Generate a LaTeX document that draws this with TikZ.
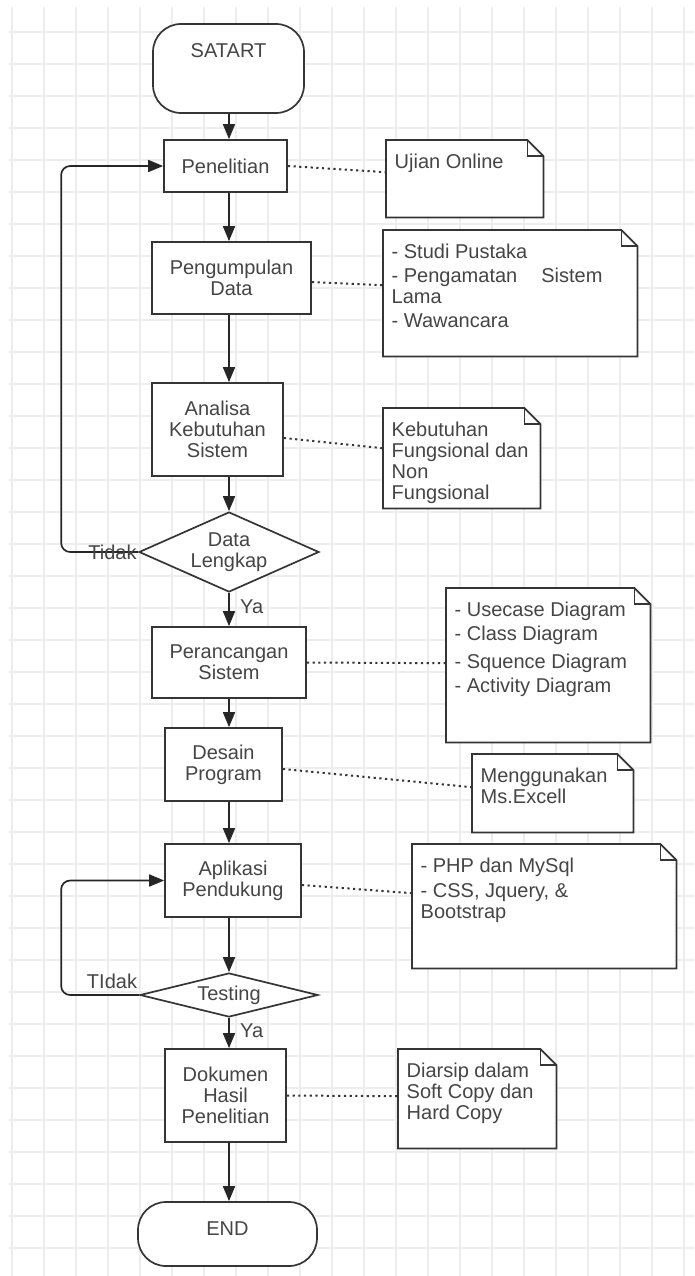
\documentclass[tikz,border=0pt]{standalone}
\usepackage{fontspec}
\setmainfont{Liberation Sans}
\usetikzlibrary{shapes.geometric,arrows.meta,calc}
\definecolor{bd}{HTML}{353535}
\definecolor{tx}{HTML}{454545}
\definecolor{gridc}{HTML}{EDEDED}
\newcommand\nfont{\fontsize{20}{21}\selectfont}
\tikzset{
  bdline/.style={draw=bd, line width=1.7pt},
  proc/.style={draw=bd, line width=1.7pt, fill=white, font=\nfont, text=tx, align=center, inner sep=0pt},
  term/.style={draw=bd, line width=1.7pt, fill=white, rounded corners=28pt, inner sep=0pt},
  decis/.style={diamond, draw=bd, line width=1.7pt, fill=white, font=\nfont, text=tx, align=center, inner sep=0pt},
  notetext/.style={font=\nfont, text=tx, align=left, inner sep=0pt},
  lbl/.style={font=\nfont, text=tx, inner sep=0pt},
  arr/.style={draw=black!85, line width=1.7pt, -{Triangle[length=15pt,width=12pt]}},
  dotline/.style={draw=bd, line width=2pt, dash pattern=on 2.2pt off 3.5pt},
}
\newcommand\notebox[6]{%
  \node[inner sep=0pt, minimum width=#4pt, minimum height=#5pt, anchor=north west] (#1) at (#2,#3) {};
  \draw[bdline, fill=white] (#1.north west) -- ([xshift=-16pt]#1.north east) -- ([yshift=-16pt]#1.north east) -- (#1.south east) -- (#1.south west) -- cycle;
  \draw[bdline] ([xshift=-16pt]#1.north east) |- ([yshift=-16pt]#1.north east);
  \node[notetext, anchor=north west] at ([shift={(8.5pt,-14pt)}]#1.north west) {#6};
}
\begin{document}
\begin{tikzpicture}[x=1pt, y=-1pt]
\useasboundingbox (0,0) rectangle (694,1276);
\fill[white] (0,0) rectangle (694,1276);
% grid
\foreach \i in {0,...,21} \draw[gridc, line width=1.8pt] ({12+32*\i},7) -- ({12+32*\i},1276);
\foreach \j in {1,...,39} \draw[gridc, line width=1.8pt] (9,{32*\j}) -- (694,{32*\j});
\coordinate (col) at (229,0);
% terminals
\node[term, minimum width=151pt, minimum height=89pt, label={[lbl, yshift=17.5pt]center:SATART}] (start) at (228.5,68.5) {};
\node[term, minimum width=179pt, minimum height=64pt, label={[lbl, yshift=5pt]center:END}] (end) at (227.5,1234) {};
% process boxes
\node[proc, minimum width=123pt, minimum height=52pt] (pen) at (225.5,166) {Penelitian};
\node[proc, minimum width=159pt, minimum height=72pt] (pg) at (231.5,278) {Pengumpulan\\Data};
\node[proc, minimum width=131pt, minimum height=93pt] (an) at (217.5,429.5) {Analisa\\Kebutuhan\\Sistem};
\node[proc, minimum width=154pt, minimum height=71pt] (pr) at (229,662.5) {Perancangan\\Sistem};
\node[proc, minimum width=117pt, minimum height=73pt] (ds) at (223.5,764.5) {Desain\\Program};
\node[proc, minimum width=136pt, minimum height=73pt] (ap) at (233,880.5) {Aplikasi\\Pendukung};
\node[proc, minimum width=121pt, minimum height=93pt] (dk) at (225.5,1095.5) {Dokumen\\Hasil\\Penelitian};
% decisions
\node[decis, minimum width=180pt, minimum height=80pt, shape aspect=2.25] (dl) at (229,552) {Data\\Lengkap};
\node[decis, minimum width=178pt, minimum height=44pt, shape aspect=4] (ts) at (229,995) {Testing};
% notes
\notebox{n1}{386}{140}{157}{77}{Ujian Online}
\notebox{n2}{383}{230}{254}{126}{- Studi Pustaka\\[3pt]- Pengamatan\hspace*{24pt}Sistem\\Lama\\[3pt]- Wawancara}
\notebox{n3}{383}{408}{157}{100}{Kebutuhan\\Fungsional dan\\Non\\Fungsional}
\notebox{n4}{446}{588}{204}{154}{- Usecase Diagram\\[3pt]- Class Diagram\\[7pt]- Squence Diagram\\[3pt]- Activity Diagram}
\notebox{n5}{472}{754}{161}{78}{Menggunakan\\Ms.Excell}
\notebox{n6}{412}{844}{264}{124}{- PHP dan MySql\\[4pt]- CSS, Jquery, \&\\Bootstrap}
\notebox{n7}{398}{1049}{158}{99}{Diarsip dalam\\Soft Copy dan\\Hard Copy}
% main flow
\draw[arr] (start.south -| col) -- (pen.north -| col);
\draw[arr] (pen.south -| col) -- (pg.north -| col);
\draw[arr] (pg.south -| col) -- (an.north -| col);
\draw[arr] (an.south -| col) -- (dl.north);
\draw[arr] (dl.south) -- (pr.north -| col);
\draw[arr] (pr.south -| col) -- (ds.north -| col);
\draw[arr] (ds.south -| col) -- (ap.north -| col);
\draw[arr] (ap.south -| col) -- (ts.north);
\draw[arr] (ts.south) -- (dk.north -| col);
\draw[arr] (dk.south -| col) -- (end.north -| col);
% loops
\draw[arr, rounded corners=9pt] (dl.west) -- ++(-77,0) |- (pen.west);
\draw[arr, rounded corners=9pt] (ts.west) -- ++(-78,0) |- (ap.west);
% labels
\node[lbl] (tidak1) at (112.5,552) {Tidak};
\node[lbl] (tidak2) at (112,981) {TIdak};
\node[lbl, anchor=west] (ya1) at (240,607) {Ya};
\node[lbl, anchor=west] (ya2) at (240,1031) {Ya};
% dotted associations
\draw[dotline] (pen.east) -- ([yshift=6.5pt]n1.west);
\draw[dotline] ([yshift=-4pt]pg.east) -- ([yshift=8pt]n2.west);
\draw[dotline] ([yshift=-8.5pt]an.east) -- ([yshift=10pt]n3.west);
\draw[dotline] (pr.east) -- ([yshift=2pt]n4.west);
\draw[dotline] ([yshift=-4.5pt]ds.east) -- ([yshift=6pt]n5.west);
\draw[dotline] ([yshift=-4.5pt]ap.east) -- ([yshift=13pt]n6.west);
\draw[dotline] (dk.east) -- ([yshift=2.5pt]n7.west);
\end{tikzpicture}
\end{document}
